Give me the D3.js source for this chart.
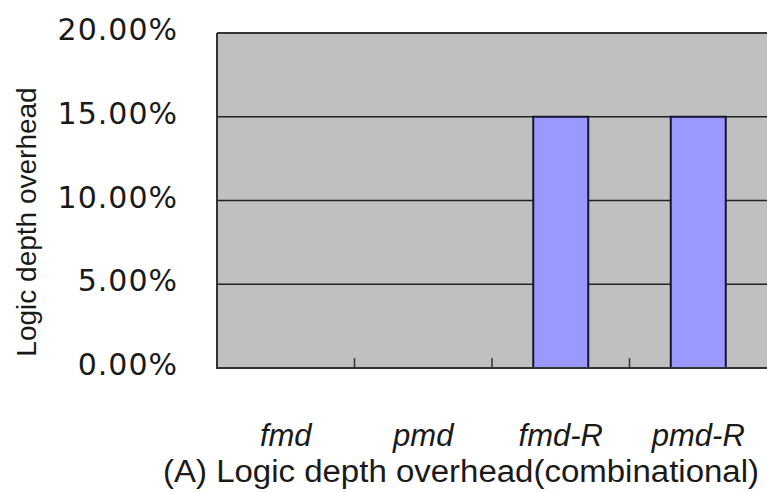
<!DOCTYPE html>
<html><head><meta charset="utf-8">
<script src="https://cdn.jsdelivr.net/npm/d3@7"></script>
<style>body{margin:0;background:#fff}</style>
</head><body>
<svg id="c" width="767" height="492"></svg>
<script>
const categories = ["fmd", "pmd", "fmd-R", "pmd-R"];
const values = [0, 0, 0.15, 0.15];
const yTicks = [0, 0.05, 0.10, 0.15, 0.20];
const yTitle = "Logic depth overhead";
const chartTitle = "(A) Logic depth overhead(combinational)";

const svg = d3.select("#c");
const m = {left: 217, top: 33, right: 767, bottom: 368};
const x = d3.scaleBand().domain(categories).range([m.left, m.right]).padding(0);
const y = d3.scaleLinear().domain([0, 0.2]).range([m.bottom, m.top]);

// plot background
svg.append("rect").attr("x", m.left).attr("y", m.top)
  .attr("width", m.right - m.left + 5).attr("height", m.bottom - m.top)
  .attr("fill", "#c0c0c0");

// gridlines
svg.append("g").selectAll("line").data(yTicks.filter(d => d > 0 && d < 0.2)).join("line")
  .attr("x1", m.left).attr("x2", m.right + 5)
  .attr("y1", d => y(d)).attr("y2", d => y(d))
  .attr("stroke", "#222").attr("stroke-width", 1.6);

// bars
const data = categories.map((c, i) => ({c, v: values[i]}));
const bw = x.bandwidth() * 0.4;
svg.append("g").selectAll("rect").data(data.filter(d => d.v > 0)).join("rect")
  .attr("x", d => x(d.c) + (x.bandwidth() - bw) / 2)
  .attr("y", d => y(d.v))
  .attr("width", bw)
  .attr("height", d => y(0) - y(d.v))
  .attr("fill", "#9999ff")
  .attr("stroke", "#15152a").attr("stroke-width", 2);

// borders
const bc = "#333";
svg.append("line").attr("x1", m.left).attr("x2", m.left).attr("y1", m.top).attr("y2", m.bottom)
  .attr("stroke", bc).attr("stroke-width", 2);
svg.append("line").attr("x1", m.left).attr("x2", m.right + 5).attr("y1", m.top).attr("y2", m.top)
  .attr("stroke", bc).attr("stroke-width", 2);
svg.append("line").attr("x1", m.left - 1).attr("x2", m.right + 5).attr("y1", m.bottom).attr("y2", m.bottom)
  .attr("stroke", bc).attr("stroke-width", 2);

// category boundary ticks (inside)
svg.append("g").selectAll("line").data(categories.slice(1)).join("line")
  .attr("x1", d => x(d)).attr("x2", d => x(d))
  .attr("y1", m.bottom).attr("y2", m.bottom - 10)
  .attr("stroke", bc).attr("stroke-width", 1.5);

// y axis labels
const yAxis = svg.append("g").attr("transform", `translate(${m.left},0)`)
  .call(d3.axisLeft(y).tickValues(yTicks).tickFormat(d3.format(".2%")).tickSize(0).tickPadding(39));
yAxis.select(".domain").remove();
yAxis.selectAll("text")
  .attr("dy", "0.22em")
  .style("font-family", "'DejaVu Sans', Verdana, sans-serif")
  .style("font-size", "30px")
  .style("letter-spacing", "1px")
  .attr("fill", "#1a1a1a");

// x axis labels
const xAxis = svg.append("g").attr("transform", `translate(0,${m.bottom})`)
  .call(d3.axisBottom(x).tickSize(0).tickPadding(56));
xAxis.select(".domain").remove();
xAxis.selectAll("text")
  .attr("dy", "0.71em")
  .style("font-family", "'Liberation Sans', Arial, sans-serif")
  .style("font-size", "31px")
  .style("font-style", "italic")
  .attr("fill", "#1a1a1a");

// y title
svg.append("text")
  .attr("transform", "translate(36,222) rotate(-90)")
  .attr("text-anchor", "middle")
  .style("font-family", "'Liberation Sans', Arial, sans-serif")
  .style("font-size", "28px")
  .attr("fill", "#1a1a1a")
  .text(yTitle);

// chart title
svg.append("text")
  .attr("x", 163).attr("y", 482)
  .attr("textLength", 596)
  .attr("lengthAdjust", "spacingAndGlyphs")
  .style("font-family", "'Liberation Sans', Arial, sans-serif")
  .style("font-size", "31px")
  .attr("fill", "#1a1a1a")
  .text(chartTitle);
</script>
</body></html>
